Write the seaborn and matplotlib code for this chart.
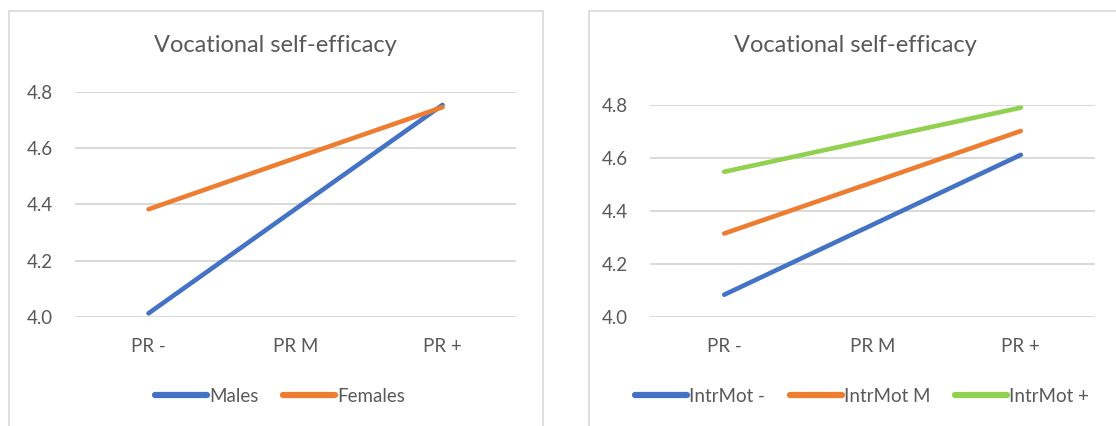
import pandas as pd
import numpy as np
import matplotlib
matplotlib.use("Agg")
import matplotlib.pyplot as plt
from matplotlib.patches import Rectangle
import seaborn as sns

# data
levels = ["PR -", "PR M", "PR +"]

gender_groups = ["Males", "Females"]
males = [4.013, 4.384, 4.754]
females = [4.383, 4.565, 4.746]

motiv_groups = ["IntrMot -", "IntrMot M", "IntrMot +"]
intrmot_low = [4.084, 4.348, 4.612]
intrmot_mid = [4.315, 4.508, 4.702]
intrmot_high = [4.548, 4.669, 4.790]

yticks = [4.0, 4.2, 4.4, 4.6, 4.8]
chart_title = "Vocational self-efficacy"

blue = "#4472C4"
orange = "#ED7D31"
green = "#92D050"
text_col = "#595959"
grid_col = "#D9D9D9"

df_gender = pd.DataFrame({
    "pr": levels * 2,
    "value": males + females,
    "group": np.repeat(gender_groups, len(levels)),
})
df_motiv = pd.DataFrame({
    "pr": levels * 3,
    "value": intrmot_low + intrmot_mid + intrmot_high,
    "group": np.repeat(motiv_groups, len(levels)),
})

sns.set_theme(style="white")
plt.rcParams["font.family"] = ["Lato", "DejaVu Sans"]

W, H = 1116, 426
fig = plt.figure(figsize=(W / 100, H / 100), dpi=100)

# panel frames like the Excel chart areas
fig.patches.append(Rectangle((9 / W, -0.05), (543 - 9) / W, 1.05 - 11 / H,
                             transform=fig.transFigure, fill=False,
                             edgecolor=grid_col, lw=1.2))
fig.patches.append(Rectangle((589 / W, -0.05), 0.5, 1.05 - 11 / H,
                             transform=fig.transFigure, fill=False,
                             edgecolor=grid_col, lw=1.2))

ax1 = fig.add_axes([75 / W, (H - 317) / H, 441 / W, 225 / H])
ax2 = fig.add_axes([650 / W, (H - 317) / H, 445 / W, 212 / H])


def style(ax, df, palette, legend_x, ncol):
    sns.lineplot(data=df, x="pr", y="value", hue="group", palette=palette,
                 lw=3.3, ax=ax, solid_capstyle="round", clip_on=False)
    ax.set_xlim(-0.5, 2.5)
    ax.set_ylim(4.0, 4.8)
    ax.set_yticks(yticks)
    ax.set_yticklabels([f"{t:.1f}" for t in yticks])
    ax.grid(axis="y", color=grid_col, lw=1.4)
    ax.set_axisbelow(True)
    for s in ax.spines.values():
        s.set_visible(False)
    ax.tick_params(axis="both", length=0, labelsize=13.5, colors=text_col)
    ax.tick_params(axis="y", pad=16)
    ax.tick_params(axis="x", pad=15)
    ax.set_xlabel("")
    ax.set_ylabel("")
    handles, labels = ax.get_legend_handles_labels()
    for h in handles:
        h.set_linewidth(4.5)
        h.set_solid_capstyle("round")
    ax.legend(handles, labels, loc="center", bbox_to_anchor=(legend_x, 1 - 396 / H),
              bbox_transform=fig.transFigure, ncol=ncol, frameon=False,
              fontsize=13.5, handlelength=2.8, handletextpad=0.1,
              columnspacing=1.3, labelcolor=text_col)


style(ax1, df_gender, [blue, orange], 280 / W, 2)
style(ax2, df_motiv, [blue, orange, green], 862 / W, 3)

fig.text(275 / W, 1 - 46 / H, chart_title, ha="center", va="center",
         fontsize=17, color=text_col)
fig.text(855 / W, 1 - 46 / H, chart_title, ha="center", va="center",
         fontsize=17, color=text_col)

fig.savefig("out.png", dpi=100, facecolor="white")
